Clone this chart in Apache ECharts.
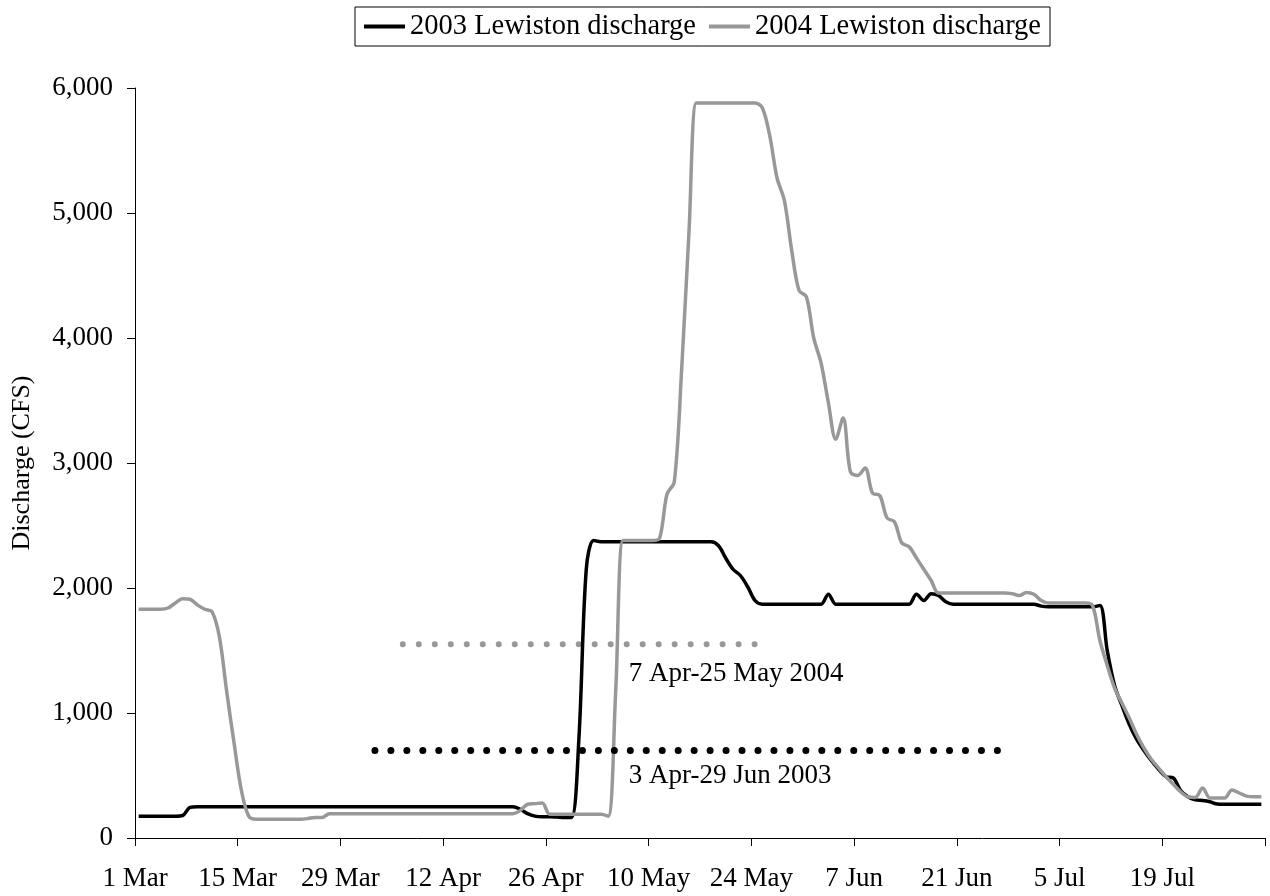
<!DOCTYPE html>
<html>
<head>
<meta charset="utf-8">
<title>Lewiston discharge</title>
<script src="https://cdn.jsdelivr.net/npm/echarts@6/dist/echarts.min.js"></script>
<style>
html, body { margin: 0; padding: 0; background: #fff; }
#chart { width: 1270px; height: 896px; }
</style>
</head>
<body>
<div id="chart"></div>
<script>
// x axis: days counted from 1 Mar, one point per day (drawn mid-day)
const xTickLabels = ['1 Mar', '15 Mar', '29 Mar', '12 Apr', '26 Apr', '10 May',
    '24 May', '7 Jun', '21 Jun', '5 Jul', '19 Jul', ''];
const yTickLabels = ['0', '1,000', '2,000', '3,000', '4,000', '5,000', '6,000'];

// daily discharge (CFS), 1 Mar .. 1 Aug
const discharge2003 = [
    175, 175, 175, 175, 175, 175, 180, 245, 250, 250, 250, 250, 250, 250, 250,
    250, 250, 250, 250, 250, 250, 250, 250, 250, 250, 250, 250, 250, 250, 250,
    250, 250, 250, 250, 250, 250, 250, 250, 250, 250, 250, 250, 250, 250, 250,
    250, 250, 250, 250, 250, 250, 250,
    230, 195, 175, 170, 170, 168, 165, 165,
    800, 2150, 2380,
    2370, 2370, 2370, 2370, 2370, 2370, 2370, 2370, 2370, 2370, 2370, 2370, 2370, 2370, 2370, 2370,
    2340, 2240, 2150, 2100, 2010, 1900,
    1870, 1870, 1870, 1870, 1870, 1870, 1870, 1870, 1870,
    1950,
    1870, 1870, 1870, 1870, 1870, 1870, 1870, 1870, 1870, 1870, 1870,
    1950, 1900, 1955, 1940, 1890,
    1870, 1870, 1870, 1870, 1870, 1870, 1870, 1870, 1870, 1870, 1870, 1870,
    1855,
    1850, 1850, 1850, 1850, 1850, 1850, 1850,
    1860, 1500, 1220, 1060, 910, 790, 700, 620, 550, 490, 480, 380, 330, 305, 300, 290, 272,
    270, 270, 270, 270, 270, 270
];
const discharge2004 = [
    1830, 1830, 1830, 1830,
    1840, 1880, 1915, 1910, 1865, 1830, 1810, 1610, 1170, 760, 380, 175,
    150, 150, 150, 150, 150, 150, 150,
    155, 165, 165,
    195, 195, 195, 195, 195, 195, 195, 195, 195, 195, 195, 195, 195,
    195, 195, 195, 195, 195, 195, 195, 195, 195, 195, 195, 195, 195,
    220, 270, 275, 280, 190,
    190, 190, 190, 190, 190, 190, 190,
    175, 1160,
    2380, 2380, 2380, 2380, 2380,
    2400, 2750, 2850, 3750, 4850, 5880,
    5880, 5880, 5880, 5880, 5880, 5880, 5880, 5880,
    5840, 5620, 5280, 5100, 4700, 4380, 4330, 4000, 3800, 3480, 3190, 3360, 2930,
    2900, 2960, 2760, 2740, 2560, 2530, 2360, 2330, 2240, 2150, 2060, 1960,
    1960, 1960, 1960, 1960, 1960, 1960, 1960, 1960, 1960,
    1955, 1940, 1965, 1950, 1900,
    1880, 1880, 1880, 1880, 1880, 1880,
    1860, 1580, 1380, 1200, 1080, 960, 830, 720, 630, 560, 490, 430,
    370, 330, 325, 400, 320, 320, 320, 385, 360, 335, 330, 330
];

// study windows: [start day, end day], level (CFS), label
const window2004 = [36.5, 84.6];
const window2004Level = 1550;
const window2004Label = '7 Apr-25 May 2004';
const window2004LabelAt = [67.3, 1310];
const window2003 = [32.7, 117.7];
const window2003Level = 700;
const window2003Label = '3 Apr-29 Jun 2003';
const window2003LabelAt = [67.3, 495];

const FONT = 'Liberation Serif';
const GRAY = '#989898';

function toPoints(values) {
    return values.map(function (v, i) { return [i + 0.5, v]; });
}

let myChart = echarts.init(document.getElementById('chart'));
myChart.setOption({
    animation: false,
    textStyle: { fontFamily: FONT, color: '#000' },
    legend: {
        data: ['2003 Lewiston discharge', '2004 Lewiston discharge'],
        left: 355,
        top: 7,
        padding: [5, 9, 5, 9],
        borderColor: '#000',
        borderWidth: 1,
        icon: 'rect',
        itemWidth: 41,
        itemHeight: 4,
        itemGap: 13,
        textStyle: { fontFamily: FONT, fontSize: 28.5, color: '#000' }
    },
    grid: { left: 135, right: 5, top: 88, bottom: 58 },
    xAxis: {
        type: 'value',
        min: 0,
        max: 154,
        interval: 14,
        splitLine: { show: false },
        axisLine: { lineStyle: { color: '#000', width: 1 } },
        axisTick: { length: 8, lineStyle: { color: '#000' } },
        axisLabel: {
            margin: 27,
            fontFamily: FONT,
            fontSize: 27,
            color: '#000',
            showMaxLabel: true,
            formatter: function (v) { return xTickLabels[Math.round(v / 14)] || ''; }
        }
    },
    yAxis: {
        type: 'value',
        min: 0,
        max: 6000,
        interval: 1000,
        name: 'Discharge (CFS)',
        nameLocation: 'middle',
        nameGap: 100,
        nameTextStyle: { fontFamily: FONT, fontSize: 26, color: '#000' },
        splitLine: { show: false },
        axisLine: { show: true, lineStyle: { color: '#000', width: 1 } },
        axisTick: { show: true, length: 8, lineStyle: { color: '#000' } },
        axisLabel: {
            margin: 22,
            fontFamily: FONT,
            fontSize: 27,
            color: '#000',
            formatter: function (v) { return yTickLabels[Math.round(v / 1000)]; }
        }
    },
    series: [
        {
            name: 'window 2004',
            type: 'line',
            data: [[window2004[0], window2004Level], [window2004[1], window2004Level]],
            showSymbol: false,
            silent: true,
            lineStyle: { color: GRAY, width: 6, type: [0.01, 15.98], cap: 'round' }
        },
        {
            name: '2003 Lewiston discharge',
            type: 'line',
            data: toPoints(discharge2003),
            showSymbol: false,
            smooth: 0.33,
            color: '#000',
            lineStyle: { color: '#000', width: 3.5 }
        },
        {
            name: '2004 Lewiston discharge',
            type: 'line',
            data: toPoints(discharge2004),
            showSymbol: false,
            smooth: 0.33,
            color: GRAY,
            lineStyle: { color: GRAY, width: 3.5 }
        },
        {
            name: 'window 2003',
            type: 'line',
            data: [[window2003[0], window2003Level], [window2003[1], window2003Level]],
            showSymbol: false,
            silent: true,
            lineStyle: { color: '#000', width: 7, type: [0.01, 15.95], cap: 'round' }
        },
        {
            name: 'window labels',
            type: 'scatter',
            symbolSize: 0,
            silent: true,
            data: [
                { value: window2004LabelAt, label: { formatter: window2004Label } },
                { value: window2003LabelAt, label: { formatter: window2003Label } }
            ],
            label: {
                show: true,
                position: 'right',
                distance: 0,
                fontFamily: FONT,
                fontSize: 27,
                color: '#000',
                opacity: 1
            },
            itemStyle: { opacity: 1 }
        }
    ]
});
</script>
</body>
</html>
